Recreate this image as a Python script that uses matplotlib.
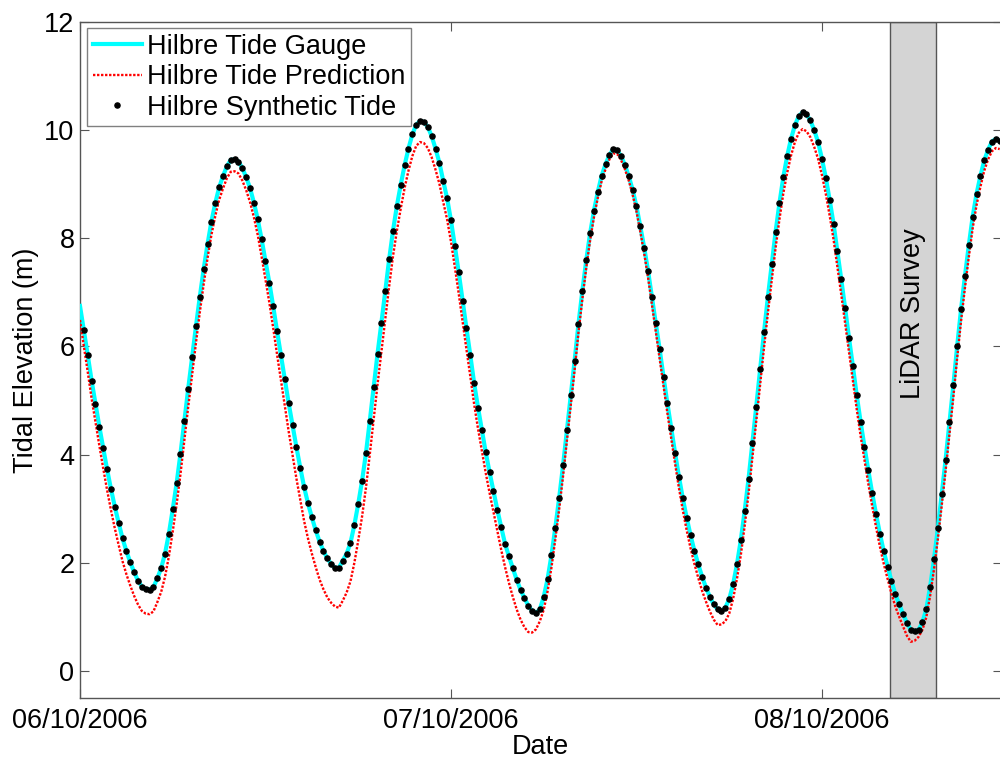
import numpy as np
import matplotlib
matplotlib.use("Agg")
import matplotlib.pyplot as plt
import matplotlib.dates as mdates

plt.rcParams.update({"font.family": ["Liberation Sans", "DejaVu Sans"], "font.size": 19.5})

# 15-minute water levels (m) starting 06/10/2006 00:00
gauge_m = [
    6.75, 6.30, 5.84, 5.37, 4.94, 4.52, 4.12, 3.73, 3.37, 3.04, 2.74, 2.45,
    2.22, 2.01, 1.83, 1.67, 1.56, 1.51, 1.50, 1.55, 1.71, 1.90, 2.17, 2.54,
    2.99, 3.47, 4.02, 4.62, 5.22, 5.80, 6.37, 6.92, 7.43, 7.89, 8.31, 8.65,
    8.94, 9.15, 9.33, 9.45, 9.46, 9.42, 9.30, 9.13, 8.93, 8.66, 8.35, 7.98,
    7.58, 7.18, 6.74, 6.28, 5.84, 5.40, 4.95, 4.54, 4.14, 3.76, 3.40, 3.10,
    2.84, 2.60, 2.39, 2.22, 2.08, 1.98, 1.90, 1.91, 2.04, 2.17, 2.37, 2.70,
    3.09, 3.52, 4.03, 4.63, 5.25, 5.87, 6.44, 7.03, 7.61, 8.14, 8.60, 8.99,
    9.35, 9.66, 9.92, 10.10, 10.17, 10.15, 10.06, 9.89, 9.66, 9.40, 9.06, 8.74,
    8.33, 7.86, 7.37, 6.85, 6.34, 5.84, 5.32, 4.87, 4.45, 4.04, 3.67, 3.32,
    2.98, 2.66, 2.35, 2.12, 1.90, 1.69, 1.50, 1.35, 1.21, 1.11, 1.07, 1.14,
    1.37, 1.70, 2.14, 2.65, 3.20, 3.80, 4.45, 5.11, 5.74, 6.42, 7.03, 7.59,
    8.09, 8.51, 8.86, 9.16, 9.37, 9.54, 9.65, 9.63, 9.52, 9.36, 9.15, 8.90,
    8.59, 8.22, 7.83, 7.40, 6.91, 6.43, 5.95, 5.44, 4.95, 4.49, 4.03, 3.59,
    3.19, 2.83, 2.51, 2.22, 1.97, 1.74, 1.54, 1.37, 1.23, 1.14, 1.11, 1.17,
    1.33, 1.60, 1.97, 2.42, 2.96, 3.55, 4.22, 4.89, 5.58, 6.26, 6.91, 7.52,
    8.12, 8.65, 9.13, 9.52, 9.84, 10.09, 10.26, 10.33, 10.29, 10.18, 10.00, 9.78,
    9.47, 9.12, 8.71, 8.27, 7.76, 7.24, 6.71, 6.16, 5.64, 5.10, 4.61, 4.15,
    3.71, 3.29, 2.90, 2.54, 2.21, 1.93, 1.66, 1.42, 1.23, 1.05, 0.89, 0.76,
    0.74, 0.76, 0.90, 1.14, 1.56, 2.07, 2.64, 3.27, 3.91, 4.60, 5.28, 6.01,
    6.69, 7.30, 7.87, 8.40, 8.82, 9.15, 9.44, 9.64, 9.79, 9.84, 9.80,
]

predicted_m = [
    6.49, 6.00, 5.53, 5.04, 4.60, 4.17, 3.75, 3.35, 2.98, 2.64, 2.33, 2.03,
    1.79, 1.58, 1.39, 1.23, 1.11, 1.06, 1.05, 1.10, 1.27, 1.46, 1.74, 2.12,
    2.58, 3.08, 3.64, 4.26, 4.88, 5.47, 6.06, 6.63, 7.15, 7.63, 8.06, 8.41,
    8.71, 8.92, 9.11, 9.23, 9.24, 9.20, 9.07, 8.89, 8.67, 8.39, 8.06, 7.66,
    7.23, 6.81, 6.34, 5.85, 5.38, 4.91, 4.43, 3.99, 3.56, 3.16, 2.77, 2.45,
    2.17, 1.92, 1.69, 1.51, 1.36, 1.26, 1.19, 1.17, 1.30, 1.45, 1.66, 2.00,
    2.41, 2.86, 3.39, 4.01, 4.66, 5.30, 5.90, 6.51, 7.11, 7.67, 8.14, 8.55,
    8.93, 9.25, 9.52, 9.71, 9.78, 9.76, 9.67, 9.50, 9.27, 9.01, 8.67, 8.35,
    7.94, 7.47, 6.98, 6.46, 5.95, 5.45, 4.93, 4.48, 4.07, 3.66, 3.29, 2.94,
    2.58, 2.24, 1.92, 1.63, 1.37, 1.14, 0.95, 0.81, 0.72, 0.71, 0.77, 0.92,
    1.13, 1.47, 1.91, 2.43, 2.99, 3.60, 4.26, 4.93, 5.57, 6.26, 6.88, 7.45,
    7.96, 8.39, 8.75, 9.06, 9.28, 9.46, 9.57, 9.56, 9.45, 9.28, 9.07, 8.81,
    8.50, 8.12, 7.72, 7.28, 6.78, 6.28, 5.79, 5.27, 4.77, 4.30, 3.83, 3.38,
    2.97, 2.60, 2.27, 1.98, 1.72, 1.48, 1.28, 1.10, 0.95, 0.85, 0.86, 0.92,
    1.06, 1.33, 1.70, 2.14, 2.68, 3.27, 3.94, 4.60, 5.29, 5.97, 6.61, 7.22,
    7.82, 8.35, 8.83, 9.21, 9.53, 9.78, 9.95, 10.02, 9.98, 9.87, 9.69, 9.47,
    9.17, 8.82, 8.42, 7.98, 7.47, 6.96, 6.43, 5.89, 5.37, 4.84, 4.35, 3.90,
    3.46, 3.05, 2.66, 2.30, 1.98, 1.70, 1.43, 1.19, 1.00, 0.82, 0.65, 0.54,
    0.56, 0.63, 0.76, 0.99, 1.39, 1.88, 2.44, 3.06, 3.70, 4.38, 5.06, 5.79,
    6.47, 7.08, 7.65, 8.18, 8.61, 8.95, 9.25, 9.46, 9.61, 9.67, 9.65,
]

# synthetic series starts one step (00:15) later
synthetic_m = [
    6.30, 5.84, 5.37, 4.94, 4.52, 4.12, 3.73, 3.37, 3.04, 2.74, 2.45,
    2.22, 2.01, 1.83, 1.67, 1.56, 1.51, 1.50, 1.55, 1.71, 1.90, 2.17, 2.54,
    2.99, 3.47, 4.02, 4.62, 5.22, 5.80, 6.37, 6.92, 7.43, 7.89, 8.31, 8.65,
    8.94, 9.15, 9.33, 9.45, 9.46, 9.42, 9.30, 9.13, 8.93, 8.66, 8.35, 7.98,
    7.58, 7.18, 6.74, 6.28, 5.84, 5.40, 4.95, 4.54, 4.14, 3.76, 3.40, 3.10,
    2.84, 2.60, 2.39, 2.22, 2.08, 1.98, 1.90, 1.91, 2.04, 2.17, 2.37, 2.70,
    3.09, 3.52, 4.03, 4.63, 5.25, 5.87, 6.44, 7.03, 7.61, 8.14, 8.60, 8.99,
    9.35, 9.66, 9.92, 10.10, 10.17, 10.15, 10.06, 9.89, 9.66, 9.40, 9.06, 8.74,
    8.33, 7.86, 7.37, 6.85, 6.34, 5.84, 5.32, 4.87, 4.45, 4.04, 3.67, 3.32,
    2.98, 2.66, 2.35, 2.12, 1.90, 1.69, 1.50, 1.35, 1.21, 1.11, 1.07, 1.14,
    1.37, 1.70, 2.14, 2.65, 3.20, 3.80, 4.45, 5.11, 5.74, 6.42, 7.03, 7.59,
    8.09, 8.51, 8.86, 9.16, 9.37, 9.54, 9.65, 9.63, 9.52, 9.36, 9.15, 8.90,
    8.59, 8.22, 7.83, 7.40, 6.91, 6.43, 5.95, 5.44, 4.95, 4.49, 4.03, 3.59,
    3.19, 2.83, 2.51, 2.22, 1.97, 1.74, 1.54, 1.37, 1.23, 1.14, 1.11, 1.17,
    1.33, 1.60, 1.97, 2.42, 2.96, 3.55, 4.22, 4.89, 5.58, 6.26, 6.91, 7.52,
    8.12, 8.65, 9.13, 9.52, 9.84, 10.09, 10.26, 10.33, 10.29, 10.18, 10.00, 9.78,
    9.47, 9.12, 8.71, 8.27, 7.76, 7.24, 6.71, 6.16, 5.64, 5.10, 4.61, 4.15,
    3.71, 3.29, 2.90, 2.54, 2.21, 1.93, 1.66, 1.42, 1.23, 1.05, 0.89, 0.76,
    0.74, 0.76, 0.90, 1.14, 1.56, 2.07, 2.64, 3.27, 3.91, 4.60, 5.28, 6.01,
    6.69, 7.30, 7.87, 8.40, 8.82, 9.15, 9.44, 9.64, 9.79, 9.84, 9.80,
]

t0 = np.datetime64("2006-10-06T00:00")
step = np.timedelta64(15, "m")
t_gauge = t0 + np.arange(len(gauge_m)) * step
t_pred = t0 + np.arange(len(predicted_m)) * step
t_synth = t0 + np.arange(1, len(synthetic_m) + 1) * step

lidar_start = np.datetime64("2006-10-08T04:25")
lidar_end = np.datetime64("2006-10-08T07:22")

fig = plt.figure(figsize=(10, 7.58), dpi=100, facecolor="white")
ax = fig.add_axes([0.08, 60 / 758, 921.5 / 1000, 676 / 758])

ax.axvspan(lidar_start, lidar_end, facecolor="#d4d4d4", edgecolor="#555555",
           lw=1.0, zorder=1)
ax.text(lidar_start + (lidar_end - lidar_start) / 2, 6.6, "LiDAR Survey",
        rotation=90, ha="center", va="center", zorder=2)

ax.plot(t_gauge, gauge_m, color="#00ffff", lw=3.0, zorder=3,
        label="Hilbre Tide Gauge")
ax.plot(t_pred, predicted_m, color="#ff0000", lw=1.7, ls=(0, (1, 0.7)),
        zorder=4, label="Hilbre Tide Prediction")
ax.plot(t_synth, synthetic_m, ls="none", marker="o", ms=3.7, color="black",
        mec="black", zorder=5, label="Hilbre Synthetic Tide")

ax.set_xlim(t0, t0 + np.timedelta64(3577, "m"))
ax.set_ylim(-0.5, 12)
ax.set_yticks(range(0, 13, 2))
ax.xaxis.set_major_locator(mdates.DayLocator())
ax.xaxis.set_major_formatter(mdates.DateFormatter("%d/%m/%Y"))

for s in ax.spines.values():
    s.set_color("#555555")
    s.set_linewidth(1.0)
ax.tick_params(direction="in", length=6.5, width=0.8, color="#555555",
               top=True, right=True, labelsize=19.5)
ax.tick_params(axis="x", pad=7)
ax.tick_params(axis="y", pad=4)

ax.set_xlabel("Date")
ax.xaxis.set_label_coords(0.5, -0.053)
ax.set_ylabel("Tidal Elevation (m)")
ax.yaxis.set_label_coords(-0.044, 0.5)

leg = ax.legend(loc="upper left", bbox_to_anchor=(0.0079, 0.9907),
                borderaxespad=0, numpoints=1, fancybox=False,
                framealpha=1, edgecolor="#808080", handlelength=1.82,
                handletextpad=0.2, labelspacing=0.166, borderpad=0.2)
leg.get_frame().set_linewidth(1.0)

fig.savefig("out.png", dpi=100, facecolor="white")
